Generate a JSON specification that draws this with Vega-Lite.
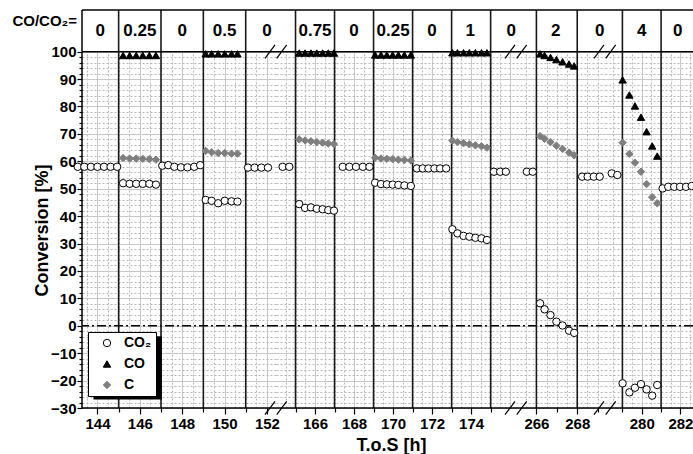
{
"$schema":"https://vega.github.io/schema/vega-lite/v6.json",
"padding":{"left":12,"top":9,"right":0,"bottom":0},
"background":"white",
"spacing":0,
"bounds":"flush",
"config":{
 "view":{"stroke":null},
 "font":"Liberation Sans",
 "axis":{"domain":false,"tickColor":"black","tickWidth":1.2,"labelFontSize":15,"labelFontWeight":"bold","labelColor":"black","labelPadding":2,"labelOverlap":false,"labelFlush":false,"gridWidth":1,"titleFontWeight":"bold","titleColor":"black","titleFontSize":18},
 "legend":{"orient":"none","legendX":6,"legendY":322,"fillColor":"white","strokeColor":"black","padding":4,"symbolSize":55,"symbolStrokeWidth":1,"labelFontSize":14,"labelFontWeight":"bold","labelColor":"black","rowPadding":7,"labelOffset":10,"symbolOffset":8}
},
"resolve":{"scale":{"x":"independent","y":"independent"},"axis":{"x":"independent","y":"independent"}},
"datasets":{
"one":[{}],
"pts":[
{"t":143.07,"s":"CO₂","v":58.0},{"t":143.38,"s":"CO₂","v":58.0},{"t":143.69,"s":"CO₂","v":58.0},{"t":144.0,"s":"CO₂","v":58.0},{"t":144.31,"s":"CO₂","v":58.0},{"t":144.62,"s":"CO₂","v":58.0},{"t":144.93,"s":"CO₂","v":58.0},
{"t":145.21,"s":"CO₂","v":52.0},{"t":145.52,"s":"CO₂","v":51.8},{"t":145.83,"s":"CO₂","v":51.8},{"t":146.14,"s":"CO₂","v":51.8},{"t":146.45,"s":"CO₂","v":51.8},{"t":146.76,"s":"CO₂","v":51.5},
{"t":147.06,"s":"CO₂","v":58.4},{"t":147.34,"s":"CO₂","v":58.6},{"t":147.63,"s":"CO₂","v":58.0},{"t":147.94,"s":"CO₂","v":57.8},{"t":148.25,"s":"CO₂","v":57.8},{"t":148.57,"s":"CO₂","v":58.0},{"t":148.85,"s":"CO₂","v":58.6},
{"t":149.11,"s":"CO₂","v":45.9},{"t":149.39,"s":"CO₂","v":45.6},{"t":149.7,"s":"CO₂","v":44.7},{"t":150.01,"s":"CO₂","v":45.6},{"t":150.33,"s":"CO₂","v":45.4},{"t":150.61,"s":"CO₂","v":45.3},
{"t":151.11,"s":"CO₂","v":57.7},{"t":151.42,"s":"CO₂","v":57.7},{"t":151.74,"s":"CO₂","v":57.7},{"t":152.05,"s":"CO₂","v":57.7},
{"t":164.34,"s":"CO₂","v":58.0},{"t":164.68,"s":"CO₂","v":58.0},
{"t":165.19,"s":"CO₂","v":44.4},{"t":165.49,"s":"CO₂","v":43.0},{"t":165.79,"s":"CO₂","v":43.2},{"t":166.09,"s":"CO₂","v":42.7},{"t":166.39,"s":"CO₂","v":42.5},{"t":166.68,"s":"CO₂","v":42.2},{"t":166.97,"s":"CO₂","v":42.0},
{"t":167.42,"s":"CO₂","v":58.0},{"t":167.76,"s":"CO₂","v":58.0},{"t":168.1,"s":"CO₂","v":58.0},{"t":168.45,"s":"CO₂","v":58.0},{"t":168.79,"s":"CO₂","v":58.0},
{"t":169.08,"s":"CO₂","v":52.2},{"t":169.38,"s":"CO₂","v":51.7},{"t":169.68,"s":"CO₂","v":51.6},{"t":169.98,"s":"CO₂","v":51.5},{"t":170.27,"s":"CO₂","v":51.4},{"t":170.58,"s":"CO₂","v":51.2},{"t":170.91,"s":"CO₂","v":51.0},
{"t":171.22,"s":"CO₂","v":57.4},{"t":171.52,"s":"CO₂","v":57.4},{"t":171.81,"s":"CO₂","v":57.4},{"t":172.12,"s":"CO₂","v":57.4},{"t":172.41,"s":"CO₂","v":57.4},{"t":172.72,"s":"CO₂","v":57.4},
{"t":173.04,"s":"CO₂","v":35.2},{"t":173.3,"s":"CO₂","v":33.7},{"t":173.61,"s":"CO₂","v":32.8},{"t":173.91,"s":"CO₂","v":32.5},{"t":174.22,"s":"CO₂","v":32.1},{"t":174.53,"s":"CO₂","v":31.9},{"t":174.81,"s":"CO₂","v":31.3},
{"t":175.17,"s":"CO₂","v":56.2},{"t":175.49,"s":"CO₂","v":56.2},{"t":175.78,"s":"CO₂","v":56.2},
{"t":265.53,"s":"CO₂","v":56.2},{"t":265.82,"s":"CO₂","v":56.2},
{"t":266.18,"s":"CO₂","v":8.2},{"t":266.4,"s":"CO₂","v":6.0},{"t":266.69,"s":"CO₂","v":3.9},{"t":266.98,"s":"CO₂","v":1.5},{"t":267.28,"s":"CO₂","v":0.1},{"t":267.6,"s":"CO₂","v":-1.8},{"t":267.85,"s":"CO₂","v":-2.6},
{"t":268.24,"s":"CO₂","v":54.4},{"t":268.51,"s":"CO₂","v":54.4},{"t":268.81,"s":"CO₂","v":54.4},{"t":269.1,"s":"CO₂","v":54.4},
{"t":278.45,"s":"CO₂","v":55.6},{"t":278.74,"s":"CO₂","v":55.0},
{"t":279.01,"s":"CO₂","v":-21.0},{"t":279.36,"s":"CO₂","v":-24.3},{"t":279.65,"s":"CO₂","v":-22.6},{"t":279.96,"s":"CO₂","v":-21.3},{"t":280.25,"s":"CO₂","v":-23.2},{"t":280.54,"s":"CO₂","v":-25.5},{"t":280.8,"s":"CO₂","v":-21.6},
{"t":281.08,"s":"CO₂","v":50.1},{"t":281.37,"s":"CO₂","v":50.7},{"t":281.68,"s":"CO₂","v":50.7},{"t":281.98,"s":"CO₂","v":50.7},{"t":282.29,"s":"CO₂","v":50.7},{"t":282.58,"s":"CO₂","v":51.0},
{"t":145.21,"s":"CO","v":98.6},{"t":145.52,"s":"CO","v":98.6},{"t":145.83,"s":"CO","v":98.6},{"t":146.14,"s":"CO","v":98.6},{"t":146.45,"s":"CO","v":98.6},{"t":146.76,"s":"CO","v":98.6},
{"t":149.11,"s":"CO","v":99.2},{"t":149.39,"s":"CO","v":99.2},{"t":149.7,"s":"CO","v":99.2},{"t":150.01,"s":"CO","v":99.2},{"t":150.33,"s":"CO","v":99.2},{"t":150.61,"s":"CO","v":99.2},
{"t":165.19,"s":"CO","v":99.5},{"t":165.49,"s":"CO","v":99.5},{"t":165.79,"s":"CO","v":99.5},{"t":166.09,"s":"CO","v":99.5},{"t":166.39,"s":"CO","v":99.5},{"t":166.68,"s":"CO","v":99.5},{"t":166.97,"s":"CO","v":99.5},
{"t":169.08,"s":"CO","v":98.8},{"t":169.38,"s":"CO","v":98.8},{"t":169.68,"s":"CO","v":98.8},{"t":169.98,"s":"CO","v":98.8},{"t":170.27,"s":"CO","v":98.8},{"t":170.58,"s":"CO","v":98.8},{"t":170.91,"s":"CO","v":98.8},
{"t":173.04,"s":"CO","v":99.6},{"t":173.3,"s":"CO","v":99.6},{"t":173.61,"s":"CO","v":99.6},{"t":173.91,"s":"CO","v":99.6},{"t":174.22,"s":"CO","v":99.6},{"t":174.53,"s":"CO","v":99.6},{"t":174.81,"s":"CO","v":99.6},
{"t":266.18,"s":"CO","v":99.2},{"t":266.4,"s":"CO","v":98.6},{"t":266.69,"s":"CO","v":97.9},{"t":266.98,"s":"CO","v":97.1},{"t":267.28,"s":"CO","v":96.3},{"t":267.6,"s":"CO","v":95.5},{"t":267.85,"s":"CO","v":94.8},
{"t":279.01,"s":"CO","v":89.7},{"t":279.36,"s":"CO","v":84.2},{"t":279.65,"s":"CO","v":80.2},{"t":279.96,"s":"CO","v":76.1},{"t":280.25,"s":"CO","v":70.8},{"t":280.54,"s":"CO","v":65.6},{"t":280.8,"s":"CO","v":61.9},
{"t":145.21,"s":"C","v":61.2},{"t":145.52,"s":"C","v":61.0},{"t":145.83,"s":"C","v":61.0},{"t":146.14,"s":"C","v":60.9},{"t":146.45,"s":"C","v":60.8},{"t":146.76,"s":"C","v":60.6},
{"t":149.11,"s":"C","v":63.8},{"t":149.39,"s":"C","v":63.3},{"t":149.7,"s":"C","v":63.0},{"t":150.01,"s":"C","v":63.0},{"t":150.33,"s":"C","v":62.8},{"t":150.61,"s":"C","v":62.8},
{"t":165.19,"s":"C","v":68.0},{"t":165.49,"s":"C","v":67.6},{"t":165.79,"s":"C","v":67.3},{"t":166.09,"s":"C","v":67.0},{"t":166.39,"s":"C","v":66.8},{"t":166.68,"s":"C","v":66.5},{"t":166.97,"s":"C","v":66.3},
{"t":169.08,"s":"C","v":61.3},{"t":169.38,"s":"C","v":61.0},{"t":169.68,"s":"C","v":60.9},{"t":169.98,"s":"C","v":60.8},{"t":170.27,"s":"C","v":60.6},{"t":170.58,"s":"C","v":60.5},{"t":170.91,"s":"C","v":60.3},
{"t":173.04,"s":"C","v":67.5},{"t":173.3,"s":"C","v":67.0},{"t":173.61,"s":"C","v":66.6},{"t":173.91,"s":"C","v":66.2},{"t":174.22,"s":"C","v":65.8},{"t":174.53,"s":"C","v":65.5},{"t":174.81,"s":"C","v":65.0},
{"t":266.18,"s":"C","v":69.2},{"t":266.4,"s":"C","v":68.2},{"t":266.69,"s":"C","v":67.0},{"t":266.98,"s":"C","v":65.7},{"t":267.28,"s":"C","v":64.5},{"t":267.6,"s":"C","v":63.2},{"t":267.85,"s":"C","v":62.2},
{"t":279.01,"s":"C","v":66.8},{"t":279.36,"s":"C","v":62.7},{"t":279.65,"s":"C","v":59.5},{"t":279.96,"s":"C","v":56.2},{"t":280.25,"s":"C","v":51.7},{"t":280.54,"s":"C","v":46.9},{"t":280.8,"s":"C","v":44.7}
],
"hdr":[
{"t":144.13,"r":"0"},{"t":146.0,"r":"0.25"},{"t":148.0,"r":"0"},{"t":150.0,"r":"0.5"},{"t":152.0,"r":"0"},
{"t":166.0,"r":"0.75"},{"t":168.0,"r":"0"},{"t":170.0,"r":"0.25"},{"t":172.0,"r":"0"},{"t":173.95,"r":"1"},{"t":176.05,"r":"0"},
{"t":266.95,"r":"2"},{"t":269.1,"r":"0"},
{"t":280.0,"r":"4"},{"t":281.86,"r":"0"}
],
"bnd":[
{"t":145},{"t":147},{"t":149},{"t":151},
{"t":165},{"t":167},{"t":169},{"t":171},{"t":173},{"t":175},
{"t":266},{"t":268},
{"t":279},{"t":281}
]
},
"hconcat":[
{
"width":194,"height":398,
"resolve":{"axis":{"x":"independent","y":"independent"}},
"layer":[
{"data":{"name":"one"},"mark":{"type":"rect","fill":"white"},"encoding":{
 "x":{"datum":143.27,"type":"quantitative","scale":{"domain":[143.27,152.43],"nice":false,"zero":false},"axis":{"orient":"bottom","values":[143.5,144.5,145,145.5,146.5,147,147.5,148.5,149,149.5,150.5,151,151.5],"labels":false,"ticks":true,"tickSize":4,"tickOpacity":{"condition":{"test":"datum.value % 1 === 0","value":1},"value":0},"grid":true,"gridColor":"#b8b8b8","gridDash":[2,2],"domain":false,"title":null}},
 "x2":{"datum":152.43},
 "y":{"datum":100,"type":"quantitative","scale":{"domain":[-30,115.2],"nice":false,"zero":false},"axis":{"orient":"left","values":[-28,-26,-24,-22,-18,-16,-14,-12,-8,-6,-4,-2,2,4,6,8,12,14,16,18,22,24,26,28,32,34,36,38,42,44,46,48,52,54,56,58,62,64,66,68,72,74,76,78,82,84,86,88,92,94,96,98],"labels":false,"ticks":true,"tickSize":3,"grid":true,"gridColor":"#b8b8b8","gridDash":[2,2],"domain":false,"title":null}},
 "y2":{"datum":115.2}}},
{"data":{"name":"one"},"mark":{"type":"rule","color":"black","strokeWidth":1.5,"strokeDash":[9,3,2,3]},"encoding":{"y":{"datum":0,"type":"quantitative","axis":null}}},
{"data":{"name":"bnd"},"transform":[{"filter":"datum.t > 143.27 && datum.t < 152.43"}],"mark":{"type":"rule","color":"#1a1a1a","strokeWidth":1.6},"encoding":{"x":{"field":"t","type":"quantitative","axis":null}}},
{"data":{"name":"one"},"mark":{"type":"rule","color":"black","strokeWidth":1.5},"encoding":{"y":{"datum":100,"type":"quantitative","axis":null}}},
{"data":{"name":"one"},"mark":{"type":"rule","color":"black","strokeWidth":1.5},"encoding":{"y":{"datum":115.2,"type":"quantitative","axis":null}}},
{"data":{"name":"one"},"mark":{"type":"rule","color":"black","strokeWidth":1.5},"encoding":{"y":{"datum":-30,"type":"quantitative","axis":null}}},
{"data":{"name":"one"},"mark":{"type":"rule","color":"black","strokeWidth":1.5},"encoding":{"x":{"datum":143.27,"type":"quantitative","axis":null}}},
{"data":{"name":"hdr"},"transform":[{"filter":"datum.t > 143.27 && datum.t < 152.43"}],"mark":{"type":"text","fontSize":17,"fontWeight":"bold","align":"center","baseline":"middle","color":"black"},"encoding":{"x":{"field":"t","type":"quantitative","axis":null},"y":{"datum":107.6,"type":"quantitative","axis":null},"text":{"field":"r"}}},
{"data":{"name":"one"},"mark":{"type":"text","text":"CO/CO₂=","align":"right","baseline":"middle","dx":-5,"fontSize":15,"fontWeight":"bold","color":"black","clip":false},"encoding":{"x":{"datum":143.27,"type":"quantitative","axis":null},"y":{"datum":111.3,"type":"quantitative","axis":null}}},
{"data":{"name":"one"},"mark":{"type":"rect","fill":"black"},"encoding":{"x":{"datum":143.81,"type":"quantitative","axis":null},"x2":{"datum":147.04},"y":{"datum":-3.8,"type":"quantitative","axis":null},"y2":{"datum":-26.9}}},
{"data":{"name":"one"},"mark":{"type":"rule","color":"black","strokeWidth":1.2,"xOffset":-11,"x2Offset":-1,"yOffset":6.7,"y2Offset":-6.7},"encoding":{"x":{"datum":152.43,"type":"quantitative","axis":null},"x2":{"datum":152.43},"y":{"datum":100,"type":"quantitative","axis":null},"y2":{"datum":100}}},
{"data":{"name":"one"},"mark":{"type":"rule","color":"black","strokeWidth":1.2,"xOffset":-11,"x2Offset":-1,"yOffset":6.7,"y2Offset":-6.7},"encoding":{"x":{"datum":152.43,"type":"quantitative","axis":null},"x2":{"datum":152.43},"y":{"datum":-30,"type":"quantitative","axis":null},"y2":{"datum":-30}}},
{"data":{"name":"pts"},"transform":[{"filter":"datum.t > 140 && datum.t < 153"}],"mark":{"type":"point","size":55,"strokeWidth":1,"opacity":1,"clip":false},"encoding":{
 "x":{"field":"t","type":"quantitative","axis":{"orient":"bottom","values":[144,146,148,150,152],"labels":true,"ticks":true,"tickSize":6,"grid":true,"gridColor":"#c8c8c8","domain":false,"title":null}},
 "y":{"field":"v","type":"quantitative","axis":{"orient":"left","values":[-30,-20,-10,0,10,20,30,40,50,60,70,80,90,100],"labels":true,"ticks":true,"tickSize":5,"labelPadding":1,"grid":true,"gridColor":"#c8c8c8","domain":false,"title":"Conversion [%]","titleX":-40,"titleY":220,"titleAngle":270,"titleAlign":"center","titleBaseline":"middle"}},
 "shape":{"field":"s","type":"nominal","scale":{"domain":["CO₂","CO","C"],"range":["circle","triangle-up","diamond"]},"legend":{"title":null}},
 "fill":{"field":"s","type":"nominal","scale":{"domain":["CO₂","CO","C"],"range":["white","black","#7f7f7f"]},"legend":{"title":null}},
 "stroke":{"field":"s","type":"nominal","scale":{"domain":["CO₂","CO","C"],"range":["black","black","#7f7f7f"]},"legend":{"title":null}}
}}
]
},
{
"width":240,"height":398,
"resolve":{"axis":{"x":"independent","y":"independent"}},
"layer":[
{"data":{"name":"one"},"mark":{"type":"rect","fill":"white"},"encoding":{
 "x":{"datum":164.0,"type":"quantitative","scale":{"domain":[164.0,176.3],"nice":false,"zero":false},"axis":{"orient":"bottom","values":[164.5,165,165.5,166.5,167,167.5,168.5,169,169.5,170.5,171,171.5,172.5,173,173.5,174.5,175,175.5],"labels":false,"ticks":true,"tickSize":4,"tickOpacity":{"condition":{"test":"datum.value % 1 === 0","value":1},"value":0},"grid":true,"gridColor":"#b8b8b8","gridDash":[2,2],"domain":false,"title":null}},
 "x2":{"datum":176.3},
 "y":{"datum":100,"type":"quantitative","scale":{"domain":[-30,115.2],"nice":false,"zero":false},"axis":{"orient":"left","values":[-28,-26,-24,-22,-18,-16,-14,-12,-8,-6,-4,-2,2,4,6,8,12,14,16,18,22,24,26,28,32,34,36,38,42,44,46,48,52,54,56,58,62,64,66,68,72,74,76,78,82,84,86,88,92,94,96,98],"labels":false,"ticks":false,"grid":true,"gridColor":"#b8b8b8","gridDash":[2,2],"domain":false,"title":null}},
 "y2":{"datum":115.2}}},
{"data":{"name":"one"},"mark":{"type":"rule","color":"black","strokeWidth":1.5,"strokeDash":[9,3,2,3]},"encoding":{"y":{"datum":0,"type":"quantitative","axis":null}}},
{"data":{"name":"bnd"},"transform":[{"filter":"datum.t > 164 && datum.t < 176.3"}],"mark":{"type":"rule","color":"#1a1a1a","strokeWidth":1.6},"encoding":{"x":{"field":"t","type":"quantitative","axis":null}}},
{"data":{"name":"one"},"mark":{"type":"rule","color":"black","strokeWidth":1.5},"encoding":{"y":{"datum":100,"type":"quantitative","axis":null}}},
{"data":{"name":"one"},"mark":{"type":"rule","color":"black","strokeWidth":1.5},"encoding":{"y":{"datum":115.2,"type":"quantitative","axis":null}}},
{"data":{"name":"one"},"mark":{"type":"rule","color":"black","strokeWidth":1.5},"encoding":{"y":{"datum":-30,"type":"quantitative","axis":null}}},
{"data":{"name":"hdr"},"transform":[{"filter":"datum.t > 164 && datum.t < 176.3"}],"mark":{"type":"text","fontSize":17,"fontWeight":"bold","align":"center","baseline":"middle","color":"black"},"encoding":{"x":{"field":"t","type":"quantitative","axis":null},"y":{"datum":107.6,"type":"quantitative","axis":null},"text":{"field":"r"}}},
{"data":{"name":"one"},"mark":{"type":"rule","color":"black","strokeWidth":1.2,"xOffset":0.7,"x2Offset":10.7,"yOffset":6.7,"y2Offset":-6.7},"encoding":{"x":{"datum":164.0,"type":"quantitative","axis":null},"x2":{"datum":164.0},"y":{"datum":100,"type":"quantitative","axis":null},"y2":{"datum":100}}},
{"data":{"name":"one"},"mark":{"type":"rule","color":"black","strokeWidth":1.2,"xOffset":0.7,"x2Offset":10.7,"yOffset":6.7,"y2Offset":-6.7},"encoding":{"x":{"datum":164.0,"type":"quantitative","axis":null},"x2":{"datum":164.0},"y":{"datum":-30,"type":"quantitative","axis":null},"y2":{"datum":-30}}},
{"data":{"name":"one"},"mark":{"type":"rule","color":"black","strokeWidth":1.2,"xOffset":-11,"x2Offset":-1,"yOffset":6.7,"y2Offset":-6.7},"encoding":{"x":{"datum":176.3,"type":"quantitative","axis":null},"x2":{"datum":176.3},"y":{"datum":100,"type":"quantitative","axis":null},"y2":{"datum":100}}},
{"data":{"name":"one"},"mark":{"type":"rule","color":"black","strokeWidth":1.2,"xOffset":-11,"x2Offset":-1,"yOffset":6.7,"y2Offset":-6.7},"encoding":{"x":{"datum":176.3,"type":"quantitative","axis":null},"x2":{"datum":176.3},"y":{"datum":-30,"type":"quantitative","axis":null},"y2":{"datum":-30}}},
{"data":{"name":"pts"},"transform":[{"filter":"datum.t > 160 && datum.t < 180"}],"mark":{"type":"point","size":55,"strokeWidth":1,"opacity":1,"clip":false},"encoding":{
 "x":{"field":"t","type":"quantitative","axis":{"orient":"bottom","values":[166,168,170,172,174,176],"labelExpr":"datum.value < 175 ? datum.label : ''","labels":true,"ticks":true,"tickSize":6,"tickOpacity":{"condition":{"test":"datum.value < 175","value":1},"value":0},"grid":true,"gridColor":"#c8c8c8","domain":false,"title":"T.o.S [h]","titleX":115,"titleY":42,"titleAlign":"center","titleBaseline":"alphabetic"}},
 "y":{"field":"v","type":"quantitative","axis":{"orient":"left","values":[-30,-20,-10,0,10,20,30,40,50,60,70,80,90,100],"labels":false,"ticks":false,"grid":true,"gridColor":"#c8c8c8","domain":false,"title":null}},
 "shape":{"field":"s","type":"nominal","scale":{"domain":["CO₂","CO","C"],"range":["circle","triangle-up","diamond"]},"legend":{"title":null}},
 "fill":{"field":"s","type":"nominal","scale":{"domain":["CO₂","CO","C"],"range":["white","black","#7f7f7f"]},"legend":{"title":null}},
 "stroke":{"field":"s","type":"nominal","scale":{"domain":["CO₂","CO","C"],"range":["black","black","#7f7f7f"]},"legend":{"title":null}}
}}
]
},
{
"width":89,"height":398,
"resolve":{"axis":{"x":"independent","y":"independent"}},
"layer":[
{"data":{"name":"one"},"mark":{"type":"rect","fill":"white"},"encoding":{
 "x":{"datum":265.0,"type":"quantitative","scale":{"domain":[265.0,269.36],"nice":false,"zero":false},"axis":{"orient":"bottom","values":[265.5,266.5,267,267.5,268.5,269],"labels":false,"ticks":true,"tickSize":4,"tickOpacity":{"condition":{"test":"datum.value % 1 === 0","value":1},"value":0},"grid":true,"gridColor":"#b8b8b8","gridDash":[2,2],"domain":false,"title":null}},
 "x2":{"datum":269.36},
 "y":{"datum":100,"type":"quantitative","scale":{"domain":[-30,115.2],"nice":false,"zero":false},"axis":{"orient":"left","values":[-28,-26,-24,-22,-18,-16,-14,-12,-8,-6,-4,-2,2,4,6,8,12,14,16,18,22,24,26,28,32,34,36,38,42,44,46,48,52,54,56,58,62,64,66,68,72,74,76,78,82,84,86,88,92,94,96,98],"labels":false,"ticks":false,"grid":true,"gridColor":"#b8b8b8","gridDash":[2,2],"domain":false,"title":null}},
 "y2":{"datum":115.2}}},
{"data":{"name":"one"},"mark":{"type":"rule","color":"black","strokeWidth":1.5,"strokeDash":[9,3,2,3]},"encoding":{"y":{"datum":0,"type":"quantitative","axis":null}}},
{"data":{"name":"bnd"},"transform":[{"filter":"datum.t > 265 && datum.t < 269.36"}],"mark":{"type":"rule","color":"#1a1a1a","strokeWidth":1.6},"encoding":{"x":{"field":"t","type":"quantitative","axis":null}}},
{"data":{"name":"one"},"mark":{"type":"rule","color":"black","strokeWidth":1.5},"encoding":{"y":{"datum":100,"type":"quantitative","axis":null}}},
{"data":{"name":"one"},"mark":{"type":"rule","color":"black","strokeWidth":1.5},"encoding":{"y":{"datum":115.2,"type":"quantitative","axis":null}}},
{"data":{"name":"one"},"mark":{"type":"rule","color":"black","strokeWidth":1.5},"encoding":{"y":{"datum":-30,"type":"quantitative","axis":null}}},
{"data":{"name":"hdr"},"transform":[{"filter":"datum.t > 265 && datum.t < 269.36"}],"mark":{"type":"text","fontSize":17,"fontWeight":"bold","align":"center","baseline":"middle","color":"black"},"encoding":{"x":{"field":"t","type":"quantitative","axis":null},"y":{"datum":107.6,"type":"quantitative","axis":null},"text":{"field":"r"}}},
{"data":{"name":"one"},"mark":{"type":"rule","color":"black","strokeWidth":1.2,"xOffset":0.7,"x2Offset":10.7,"yOffset":6.7,"y2Offset":-6.7},"encoding":{"x":{"datum":265.0,"type":"quantitative","axis":null},"x2":{"datum":265.0},"y":{"datum":100,"type":"quantitative","axis":null},"y2":{"datum":100}}},
{"data":{"name":"one"},"mark":{"type":"rule","color":"black","strokeWidth":1.2,"xOffset":0.7,"x2Offset":10.7,"yOffset":6.7,"y2Offset":-6.7},"encoding":{"x":{"datum":265.0,"type":"quantitative","axis":null},"x2":{"datum":265.0},"y":{"datum":-30,"type":"quantitative","axis":null},"y2":{"datum":-30}}},
{"data":{"name":"one"},"mark":{"type":"rule","color":"black","strokeWidth":1.2,"xOffset":-11,"x2Offset":-1,"yOffset":6.7,"y2Offset":-6.7},"encoding":{"x":{"datum":269.36,"type":"quantitative","axis":null},"x2":{"datum":269.36},"y":{"datum":100,"type":"quantitative","axis":null},"y2":{"datum":100}}},
{"data":{"name":"one"},"mark":{"type":"rule","color":"black","strokeWidth":1.2,"xOffset":-11,"x2Offset":-1,"yOffset":6.7,"y2Offset":-6.7},"encoding":{"x":{"datum":269.36,"type":"quantitative","axis":null},"x2":{"datum":269.36},"y":{"datum":-30,"type":"quantitative","axis":null},"y2":{"datum":-30}}},
{"data":{"name":"pts"},"transform":[{"filter":"datum.t > 260 && datum.t < 270"}],"mark":{"type":"point","size":55,"strokeWidth":1,"opacity":1,"clip":false},"encoding":{
 "x":{"field":"t","type":"quantitative","axis":{"orient":"bottom","values":[266,268],"labels":true,"ticks":true,"tickSize":6,"grid":true,"gridColor":"#c8c8c8","domain":false,"title":null}},
 "y":{"field":"v","type":"quantitative","axis":{"orient":"left","values":[-30,-20,-10,0,10,20,30,40,50,60,70,80,90,100],"labels":false,"ticks":false,"grid":true,"gridColor":"#c8c8c8","domain":false,"title":null}},
 "shape":{"field":"s","type":"nominal","scale":{"domain":["CO₂","CO","C"],"range":["circle","triangle-up","diamond"]},"legend":{"title":null}},
 "fill":{"field":"s","type":"nominal","scale":{"domain":["CO₂","CO","C"],"range":["white","black","#7f7f7f"]},"legend":{"title":null}},
 "stroke":{"field":"s","type":"nominal","scale":{"domain":["CO₂","CO","C"],"range":["black","black","#7f7f7f"]},"legend":{"title":null}}
}}
]
},
{
"width":88,"height":398,
"resolve":{"axis":{"x":"independent","y":"independent"}},
"layer":[
{"data":{"name":"one"},"mark":{"type":"rect","fill":"white"},"encoding":{
 "x":{"datum":278.1,"type":"quantitative","scale":{"domain":[278.1,282.65],"nice":false,"zero":false},"axis":{"orient":"bottom","values":[278.5,279,279.5,280.5,281,281.5,282.5],"labels":false,"ticks":true,"tickSize":4,"tickOpacity":{"condition":{"test":"datum.value % 1 === 0","value":1},"value":0},"grid":true,"gridColor":"#b8b8b8","gridDash":[2,2],"domain":false,"title":null}},
 "x2":{"datum":282.65},
 "y":{"datum":100,"type":"quantitative","scale":{"domain":[-30,115.2],"nice":false,"zero":false},"axis":{"orient":"left","values":[-28,-26,-24,-22,-18,-16,-14,-12,-8,-6,-4,-2,2,4,6,8,12,14,16,18,22,24,26,28,32,34,36,38,42,44,46,48,52,54,56,58,62,64,66,68,72,74,76,78,82,84,86,88,92,94,96,98],"labels":false,"ticks":false,"grid":true,"gridColor":"#b8b8b8","gridDash":[2,2],"domain":false,"title":null}},
 "y2":{"datum":115.2}}},
{"data":{"name":"one"},"mark":{"type":"rule","color":"black","strokeWidth":1.5,"strokeDash":[9,3,2,3]},"encoding":{"y":{"datum":0,"type":"quantitative","axis":null}}},
{"data":{"name":"bnd"},"transform":[{"filter":"datum.t > 278.1 && datum.t < 282.65"}],"mark":{"type":"rule","color":"#1a1a1a","strokeWidth":1.6},"encoding":{"x":{"field":"t","type":"quantitative","axis":null}}},
{"data":{"name":"one"},"mark":{"type":"rule","color":"black","strokeWidth":1.5},"encoding":{"y":{"datum":100,"type":"quantitative","axis":null}}},
{"data":{"name":"one"},"mark":{"type":"rule","color":"black","strokeWidth":1.5},"encoding":{"y":{"datum":115.2,"type":"quantitative","axis":null}}},
{"data":{"name":"one"},"mark":{"type":"rule","color":"black","strokeWidth":1.5},"encoding":{"y":{"datum":-30,"type":"quantitative","axis":null}}},
{"data":{"name":"hdr"},"transform":[{"filter":"datum.t > 278.1 && datum.t < 282.65"}],"mark":{"type":"text","fontSize":17,"fontWeight":"bold","align":"center","baseline":"middle","color":"black"},"encoding":{"x":{"field":"t","type":"quantitative","axis":null},"y":{"datum":107.6,"type":"quantitative","axis":null},"text":{"field":"r"}}},
{"data":{"name":"one"},"mark":{"type":"rule","color":"black","strokeWidth":1.2,"xOffset":0.7,"x2Offset":10.7,"yOffset":6.7,"y2Offset":-6.7},"encoding":{"x":{"datum":278.1,"type":"quantitative","axis":null},"x2":{"datum":278.1},"y":{"datum":100,"type":"quantitative","axis":null},"y2":{"datum":100}}},
{"data":{"name":"one"},"mark":{"type":"rule","color":"black","strokeWidth":1.2,"xOffset":0.7,"x2Offset":10.7,"yOffset":6.7,"y2Offset":-6.7},"encoding":{"x":{"datum":278.1,"type":"quantitative","axis":null},"x2":{"datum":278.1},"y":{"datum":-30,"type":"quantitative","axis":null},"y2":{"datum":-30}}},
{"data":{"name":"pts"},"transform":[{"filter":"datum.t > 275 && datum.t < 290"}],"mark":{"type":"point","size":55,"strokeWidth":1,"opacity":1,"clip":true},"encoding":{
 "x":{"field":"t","type":"quantitative","axis":{"orient":"bottom","values":[280,282],"labels":true,"ticks":true,"tickSize":6,"grid":true,"gridColor":"#c8c8c8","domain":false,"title":null}},
 "y":{"field":"v","type":"quantitative","axis":{"orient":"left","values":[-30,-20,-10,0,10,20,30,40,50,60,70,80,90,100],"labels":false,"ticks":false,"grid":true,"gridColor":"#c8c8c8","domain":false,"title":null}},
 "shape":{"field":"s","type":"nominal","scale":{"domain":["CO₂","CO","C"],"range":["circle","triangle-up","diamond"]},"legend":{"title":null}},
 "fill":{"field":"s","type":"nominal","scale":{"domain":["CO₂","CO","C"],"range":["white","black","#7f7f7f"]},"legend":{"title":null}},
 "stroke":{"field":"s","type":"nominal","scale":{"domain":["CO₂","CO","C"],"range":["black","black","#7f7f7f"]},"legend":{"title":null}}
}}
]
}
]
}
